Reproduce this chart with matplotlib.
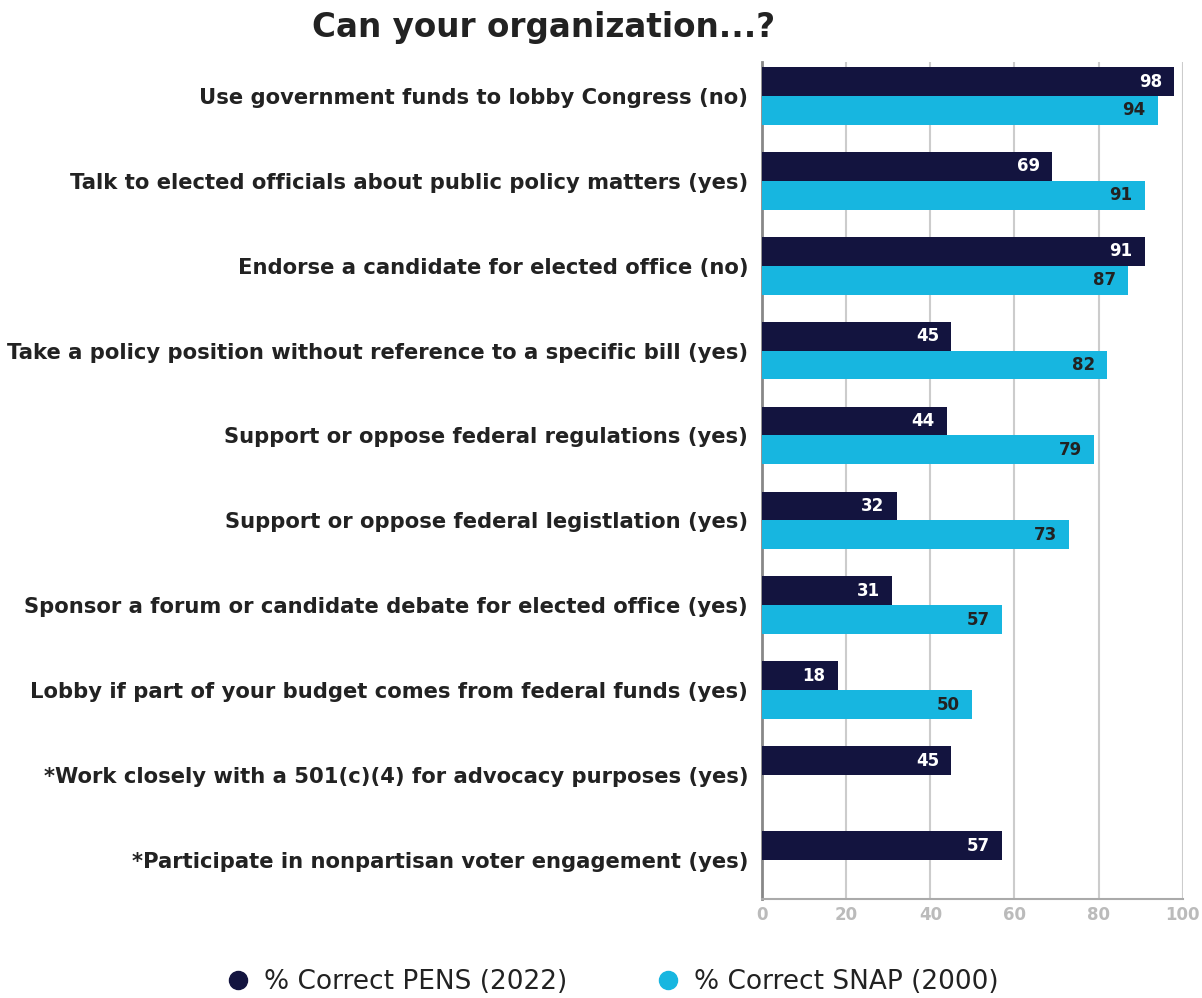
import matplotlib
matplotlib.use("Agg")
import matplotlib.pyplot as plt
from matplotlib.lines import Line2D
import numpy as np

questions = [
    "Use government funds to lobby Congress (no)",
    "Talk to elected officials about public policy matters (yes)",
    "Endorse a candidate for elected office (no)",
    "Take a policy position without reference to a specific bill (yes)",
    "Support or oppose federal regulations (yes)",
    "Support or oppose federal legistlation (yes)",
    "Sponsor a forum or candidate debate for elected office (yes)",
    "Lobby if part of your budget comes from federal funds (yes)",
    "*Work closely with a 501(c)(4) for advocacy purposes (yes)",
    "*Participate in nonpartisan voter engagement (yes)",
]
pens_2022 = [98, 69, 91, 45, 44, 32, 31, 18, 45, 57]
snap_2000 = [94, 91, 87, 82, 79, 73, 57, 50, None, None]
x_ticks = [0, 20, 40, 60, 80, 100]

navy = '#13143f'
cyan = '#17b6e0'
txt = '#222222'

plt.rcParams['font.family'] = ['DejaVu Sans']

fig = plt.figure(figsize=(12.02, 9.98), dpi=100)
ax = fig.add_axes([0.634, 0.0992, 0.350, 0.8387])

bh = 0.34
y = np.arange(len(questions))
ax.barh(y - bh / 2, pens_2022, height=bh, color=navy, zorder=3)
snap_y = [yy + bh / 2 for yy, v in zip(y, snap_2000) if v is not None]
snap_v = [v for v in snap_2000 if v is not None]
ax.barh(snap_y, snap_v, height=bh, color=cyan, zorder=3)

# value labels inside the bar ends
for yy, v in zip(y, pens_2022):
    ax.text(v - 2.9, yy - bh / 2, str(v), ha='right', va='center',
            color='white', fontsize=12, fontweight='bold', zorder=4)
for yy, v in zip(snap_y, snap_v):
    ax.text(v - 2.9, yy, str(v), ha='right', va='center',
            color=txt, fontsize=12, fontweight='bold', zorder=4)

ax.set_xlim(0, 100)
ax.set_ylim(9.46, -0.40)
ax.set_xticks(x_ticks)
ax.set_yticks(y)
ax.set_yticklabels(questions, fontsize=15.2, fontweight='bold', color=txt)
ax.tick_params(axis='y', length=0, pad=10)
ax.tick_params(axis='x', length=0, pad=5, labelsize=12, labelcolor='#bbbbbb')
for t in ax.get_xticklabels():
    t.set_fontweight('bold')

ax.grid(axis='x', color='#cccccc', lw=1.5, zorder=0)
for s in ['top', 'right']:
    ax.spines[s].set_visible(False)
ax.spines['left'].set_color('#888888')
ax.spines['left'].set_linewidth(2)
ax.spines['bottom'].set_color('#aaaaaa')
ax.spines['bottom'].set_linewidth(1.5)

fig.text(0.452, 0.972, "Can your organization...?", ha='center', va='center',
         fontsize=23.5, fontweight='heavy', color=txt)

handles = [
    Line2D([], [], marker='o', ls='', color=navy, markersize=13),
    Line2D([], [], marker='o', ls='', color=cyan, markersize=13),
]
fig.legend(handles, ["% Correct PENS (2022)", "% Correct SNAP (2000)"],
           loc='center', bbox_to_anchor=(0.509, 0.016), ncol=2, frameon=False,
           fontsize=19, handlelength=1.0, handletextpad=0.5, columnspacing=3.3,
           labelcolor=txt)

fig.savefig('out.png', dpi=100)
